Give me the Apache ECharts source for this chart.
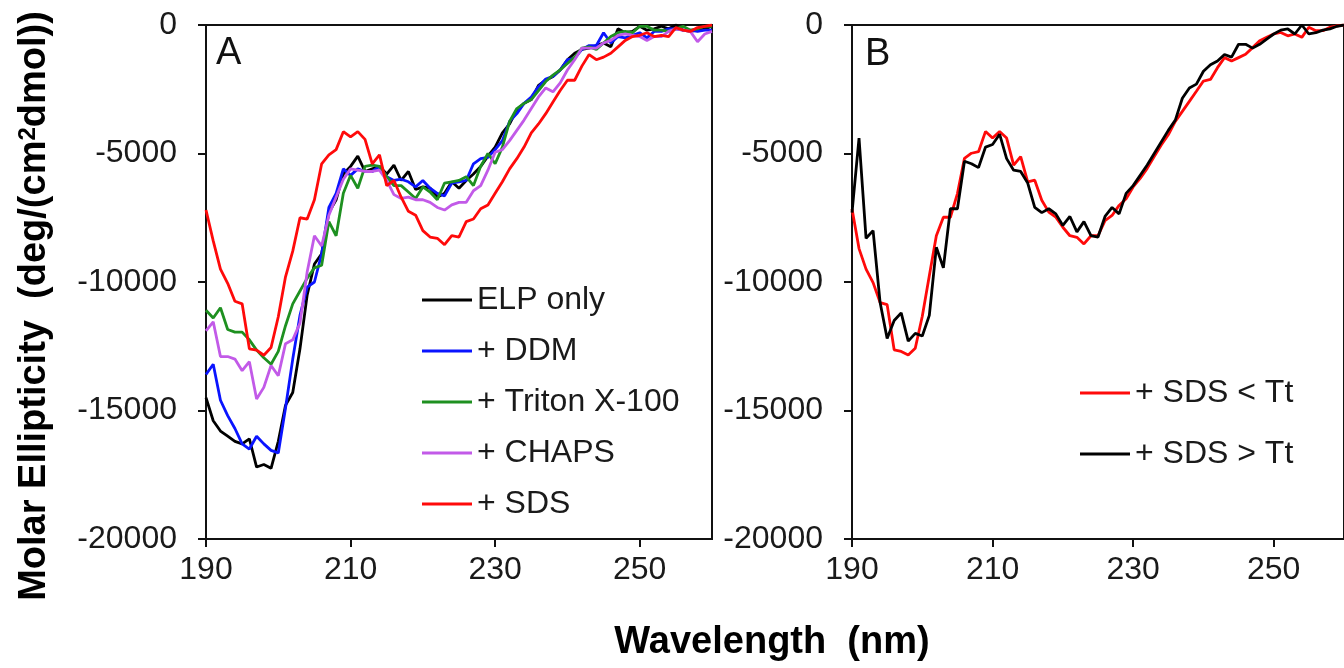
<!DOCTYPE html>
<html>
<head>
<meta charset="utf-8">
<script src="https://cdn.jsdelivr.net/npm/echarts@6/dist/echarts.min.js"></script>
<style>
html,body{margin:0;padding:0;background:#fff;}
#chart{width:1344px;height:668px;}
</style>
</head>
<body>
<div id="chart"></div>
<script>
// Wavelength grid (nm)
const wavelengths = [190,191,192,193,194,195,196,197,198,199,200,201,202,203,204,205,206,207,208,209,210,211,212,213,214,215,216,217,218,219,220,221,222,223,224,225,226,227,228,229,230,231,232,233,234,235,236,237,238,239,240,241,242,243,244,245,246,247,248,249,250,251,252,253,254,255,256,257,258,259,260];

// Tick labels
const xTicks = [190, 210, 230, 250];
const yTicks = [-20000, -15000, -10000, -5000, 0];

// Panel A series names
const namesA = ['ELP only', '+ DDM', '+ Triton X-100', '+ CHAPS', '+ SDS'];
// Panel B series names
const namesB = ['+ SDS < Tt', '+ SDS > Tt'];

// Panel A values (deg cm2 dmol-1), 190..260 nm
const elpOnly = [-14500,-15400,-15800,-16000,-16200,-16300,-16100,-17200,-17100,-17250,-16200,-14800,-14300,-12600,-10500,-9300,-8900,-7300,-6800,-5800,-5500,-5100,-5700,-5600,-5500,-5800,-5450,-6050,-5700,-6400,-6300,-6350,-6700,-6550,-6100,-6350,-6050,-5800,-5500,-5100,-4750,-4200,-3850,-3300,-3050,-2900,-2350,-2150,-2000,-1750,-1350,-1100,-950,-900,-800,-700,-850,-150,-300,-250,-50,-200,-150,-50,-150,0,-200,-250,-200,-150,-50];
const ddm = [-13600,-13200,-14600,-15200,-15700,-16300,-16500,-16000,-16300,-16550,-16650,-14900,-13000,-11300,-10200,-10000,-8900,-7100,-6550,-5600,-5850,-5600,-5700,-5700,-5500,-5900,-6050,-6000,-6100,-6300,-6050,-6350,-6550,-6650,-6150,-6100,-6050,-5400,-5200,-5150,-4850,-4500,-3750,-3450,-3050,-2800,-2400,-2100,-2000,-1750,-1350,-1300,-950,-800,-800,-300,-700,-450,-500,-400,-300,-500,-250,-250,-150,-150,-200,-200,-250,-200,-200];
const triton = [-11100,-11400,-11000,-11850,-11950,-11950,-12250,-12650,-12950,-13200,-12700,-11700,-10850,-10350,-9850,-9450,-9350,-7650,-8200,-6550,-5850,-6350,-5500,-5450,-5500,-5900,-6250,-6250,-6500,-6750,-6300,-6500,-6800,-6150,-6100,-6050,-5900,-6250,-5500,-5000,-5400,-4750,-3750,-3250,-3050,-2900,-2550,-2200,-1950,-1750,-1500,-1250,-900,-850,-950,-700,-450,-300,-250,-300,-50,-50,-200,-200,-250,-150,-50,-200,-150,-50,-50];
const chaps = [-11900,-11550,-12900,-12900,-13000,-13450,-13100,-14550,-14100,-13250,-13650,-12400,-12250,-11600,-9600,-8200,-8600,-7400,-6700,-6000,-5600,-5650,-5700,-5700,-5650,-6050,-6600,-6750,-6700,-6800,-6800,-6900,-7100,-7200,-7000,-6900,-6900,-6450,-6250,-5650,-4950,-4850,-4500,-4100,-3700,-3250,-2800,-2450,-2600,-2250,-1750,-1350,-900,-900,-900,-700,-600,-400,-350,-400,-450,-600,-450,-450,-250,-150,-200,-250,-650,-350,-250];
const sds = [-7200,-8400,-9500,-10050,-10750,-10850,-12600,-12650,-12850,-12550,-11350,-9800,-8800,-7500,-7550,-6800,-5400,-5050,-4850,-4150,-4350,-4150,-4450,-5400,-5050,-6250,-6050,-6700,-7250,-7400,-8000,-8250,-8300,-8550,-8200,-8250,-7650,-7550,-7150,-7000,-6550,-6100,-5600,-5200,-4750,-4200,-3850,-3450,-3000,-2550,-2150,-2150,-1600,-1150,-1350,-1250,-1100,-850,-600,-450,-400,-300,-450,-400,-450,-100,-200,-250,-100,-50,0];

// Panel B values
const sdsBelowTt = [-7150,-8700,-9500,-10025,-10800,-10880,-12640,-12700,-12840,-12580,-11330,-9760,-8200,-7480,-7480,-6560,-5190,-4990,-4930,-4140,-4400,-4140,-4400,-5450,-5120,-6100,-6040,-6820,-7280,-7480,-7870,-8200,-8260,-8520,-8200,-8200,-7610,-7410,-7020,-6760,-6300,-5970,-5580,-5120,-4670,-4270,-3750,-3360,-2970,-2580,-2180,-2120,-1660,-1270,-1400,-1270,-1140,-880,-610,-480,-350,-290,-420,-350,-480,-90,-220,-220,-90,-30,0];
const sdsAboveTt = [-7300,-4400,-8300,-8000,-10800,-12200,-11500,-11200,-12300,-12000,-12100,-11300,-8650,-9450,-7150,-7150,-5300,-5400,-5550,-4750,-4650,-4250,-5200,-5650,-5700,-6150,-7100,-7300,-7150,-7350,-7800,-7450,-8050,-7650,-8200,-8250,-7450,-7100,-7350,-6550,-6250,-5850,-5450,-5000,-4550,-4100,-3700,-2850,-2450,-2300,-1800,-1550,-1400,-1150,-1250,-750,-750,-900,-750,-550,-350,-200,-150,-350,0,-350,-300,-200,-150,-50,0];

const colorsA = ['#000000', '#0a14ff', '#1e9020', '#c25ae8', '#ff0a0a'];
const colorsB = ['#ff0a0a', '#000000'];
const valuesA = [elpOnly, ddm, triton, chaps, sds];
const valuesB = [sdsBelowTt, sdsAboveTt];

const FONT = '"Liberation Sans", Arial, sans-serif';
const pair = arr => wavelengths.map((w, i) => [w, arr[i]]);

function xAxisFor(gridIndex) {
  return {
    type: 'value', gridIndex: gridIndex, min: 190, max: 260,
    axisLine: { show: true, onZero: false, lineStyle: { color: '#111', width: 2 } },
    axisTick: { show: true, inside: false, length: 8, customValues: xTicks, lineStyle: { color: '#111', width: 2 } },
    axisLabel: { customValues: xTicks, color: '#1a1a1a', fontSize: 32, fontFamily: FONT, margin: 15 },
    splitLine: { show: false }
  };
}
function yAxisFor(gridIndex) {
  return {
    type: 'value', gridIndex: gridIndex, min: -20000, max: 0, interval: 5000,
    axisLine: { show: true, onZero: false, lineStyle: { color: '#111', width: 2 } },
    axisTick: { show: true, inside: false, length: 8, lineStyle: { color: '#111', width: 2 } },
    axisLabel: { color: '#1a1a1a', fontSize: 32, fontFamily: FONT, margin: 29,
      formatter: v => (yTicks.indexOf(v) >= 0 ? String(v) : '') },
    splitLine: { show: false }
  };
}

const series = [];
namesA.forEach((n, i) => series.push({
  name: n, type: 'line', xAxisIndex: 0, yAxisIndex: 0, data: pair(valuesA[i]),
  symbol: 'none', color: colorsA[i], lineStyle: { width: 2.8, color: colorsA[i] }, animation: false
}));
namesB.forEach((n, i) => series.push({
  name: n, type: 'line', xAxisIndex: 1, yAxisIndex: 1, data: pair(valuesB[i]),
  symbol: 'none', color: colorsB[i], lineStyle: { width: 2.8, color: colorsB[i] }, animation: false
}));

const legendText = { color: '#1a1a1a', fontSize: 32, fontFamily: FONT, lineHeight: 32 };

const option = {
  backgroundColor: '#ffffff',
  animation: false,
  grid: [
    { left: 206, top: 25, width: 506, height: 514, show: true, borderColor: '#111', borderWidth: 2, backgroundColor: 'transparent' },
    { left: 852, top: 25, width: 500, height: 514, show: true, borderColor: '#111', borderWidth: 2, backgroundColor: 'transparent' }
  ],
  xAxis: [xAxisFor(0), xAxisFor(1)],
  yAxis: [yAxisFor(0), yAxisFor(1)],
  legend: [
    { data: namesA, orient: 'vertical', left: 422, top: 284, itemWidth: 50, itemHeight: 3, icon: 'rect',
      itemGap: 19, textStyle: legendText, selectedMode: false, padding: 0 },
    { data: namesB, orient: 'vertical', left: 1080, top: 377, itemWidth: 50, itemHeight: 3, icon: 'rect',
      itemGap: 29, textStyle: legendText, selectedMode: false, padding: 0 }
  ],
  series: series,
  graphic: [
    { type: 'text', left: 216, top: 35, style: { text: 'A', font: '38px ' + FONT, fill: '#111' } },
    { type: 'text', left: 865, top: 36, style: { text: 'B', font: '38px ' + FONT, fill: '#111' } },
    { type: 'text', x: 35, y: 306, rotation: Math.PI / 2,
      style: { text: 'Molar Ellipticity  (deg/(cm{sup|2}dmol))', font: 'bold 38px ' + FONT, fill: '#000',
        align: 'center', verticalAlign: 'middle',
        rich: { sup: { font: 'bold 24px ' + FONT, fill: '#000', verticalAlign: 'top', lineHeight: 38 } } } },
    { type: 'text', x: 772, y: 643,
      style: { text: 'Wavelength  (nm)', font: 'bold 38px ' + FONT, fill: '#000', align: 'center', verticalAlign: 'middle' } }
  ]
};

const chart = echarts.init(document.getElementById('chart'), null, { renderer: 'canvas' });
chart.setOption(option);
</script>
</body>
</html>
